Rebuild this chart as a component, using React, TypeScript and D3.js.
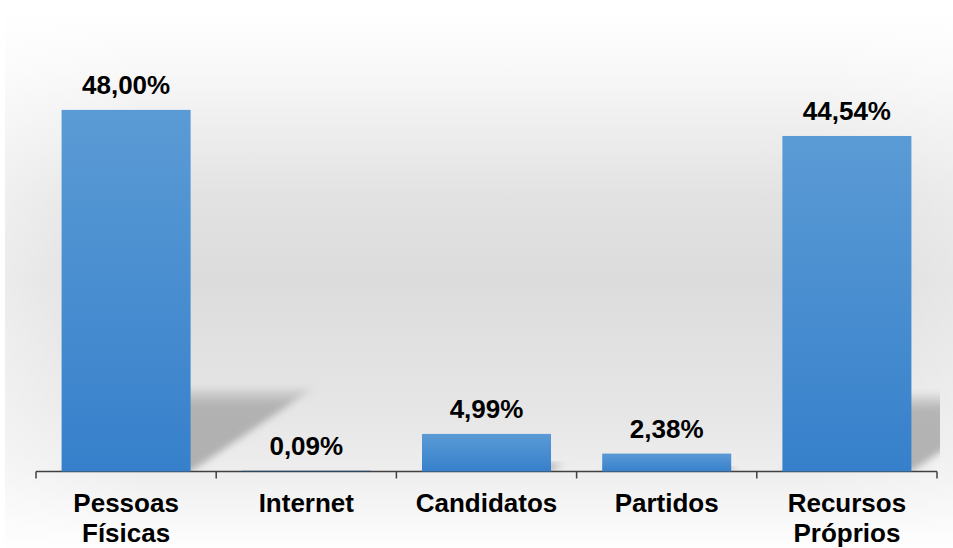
import React from "react";
import * as d3 from "d3";

const categories = ["Pessoas Físicas", "Internet", "Candidatos", "Partidos", "Recursos Próprios"];
const categoryLines = [["Pessoas", "Físicas"], ["Internet"], ["Candidatos"], ["Partidos"], ["Recursos", "Próprios"]];
const values = [48.0, 0.09, 4.99, 2.38, 44.54];
const valueLabels = ["48,00%", "0,09%", "4,99%", "2,38%", "44,54%"];

const W = 953;
const H = 548;
const FONT = "'Liberation Sans', Arial, Helvetica, sans-serif";

export default function App() {
  const x = d3.scaleBand<string>().domain(categories).range([36, 937]).paddingInner(0.284).paddingOuter(0.142);
  const y = d3.scaleLinear().domain([0, 60]).range([471.5, 19.5]);
  const base = y(0);
  const step = x.step();
  const gap = step * x.paddingInner();
  const tickXs = categories.map((c) => (x(c) as number) - gap / 2).concat([(x(categories[categories.length - 1]) as number) + x.bandwidth() + gap / 2]);

  const shadowScale = 0.23;
  const skew = 1.48;

  return (
    <svg width={W} height={H} style={{ position: "absolute", left: 0, top: 0 }} fontFamily={FONT}>
      <defs>
        <linearGradient id="bg" gradientUnits="userSpaceOnUse" x1="0" y1="10" x2="0" y2="548">
          <stop offset="0" stopColor="#ffffff" />
          <stop offset="0.1" stopColor="#f9f9f9" />
          <stop offset="0.35" stopColor="#e2e2e2" />
          <stop offset="0.5" stopColor="#dcdcdc" />
          <stop offset="0.75" stopColor="#e6e6e6" />
          <stop offset="0.86" stopColor="#eeeeee" />
          <stop offset="1" stopColor="#fefefe" />
        </linearGradient>
        <linearGradient id="edge" x1="0" y1="0" x2="1" y2="0">
          <stop offset="0" stopColor="#ffffff" stopOpacity="0.45" />
          <stop offset="0.15" stopColor="#ffffff" stopOpacity="0" />
          <stop offset="0.85" stopColor="#ffffff" stopOpacity="0" />
          <stop offset="1" stopColor="#ffffff" stopOpacity="0.3" />
        </linearGradient>
        <linearGradient id="bar" x1="0" y1="0" x2="0" y2="1">
          <stop offset="0" stopColor="#5b9bd5" />
          <stop offset="1" stopColor="#3680cb" />
        </linearGradient>
        <linearGradient id="shadowGrad" x1="0" y1="1" x2="0" y2="0">
          <stop offset="0" stopColor="#8f8f8f" stopOpacity="0.65" />
          <stop offset="0.8" stopColor="#8f8f8f" stopOpacity="0.6" />
          <stop offset="1" stopColor="#8f8f8f" stopOpacity="0.15" />
        </linearGradient>
        <filter id="blur" x="-20%" y="-20%" width="140%" height="140%">
          <feGaussianBlur stdDeviation="3.5" />
        </filter>
        <clipPath id="plotClip">
          <rect x={8} y={10} width={932} height={base - 10} />
        </clipPath>
      </defs>

      <rect x={0} y={0} width={W} height={H} fill="#ffffff" />
      <rect x={5} y={10} width={W - 5} height={H - 10} fill="url(#bg)" />
      <rect x={5} y={10} width={W - 5} height={H - 10} fill="url(#edge)" />

      <g clipPath="url(#plotClip)">
        {categories.map((c, i) => {
          const x0 = x(c) as number;
          const x1 = x0 + x.bandwidth();
          const h = (base - y(values[i])) * shadowScale;
          const dx = h * skew;
          const d = `M${x0},${base} L${x1},${base} L${x1 + dx},${base - h} L${x0 + dx},${base - h} Z`;
          return <path key={c} d={d} fill="url(#shadowGrad)" filter="url(#blur)" />;
        })}
      </g>

      <line x1={36} x2={937} y1={base} y2={base} stroke="#404040" strokeWidth={1.5} />
      {tickXs.map((tx, i) => (
        <line key={i} x1={tx} x2={tx} y1={base} y2={base + 7} stroke="#404040" strokeWidth={1.5} />
      ))}

      {categories.map((c, i) => (
        <rect
          key={c}
          x={x(c) as number}
          y={y(values[i])}
          width={x.bandwidth()}
          height={base - y(values[i])}
          fill={values[i] < 1 ? "#1f4e79" : "url(#bar)"}
        />
      ))}

      {categories.map((c, i) => (
        <text
          key={c}
          x={(x(c) as number) + x.bandwidth() / 2}
          y={y(values[i]) - 16}
          textAnchor="middle"
          fontSize={26}
          fontWeight="bold"
          fill="#000"
        >
          {valueLabels[i]}
        </text>
      ))}

      {categories.map((c, i) => (
        <text key={c} textAnchor="middle" fontSize={26} fontWeight="bold" fill="#000">
          {categoryLines[i].map((ln, j) => (
            <tspan key={j} x={(x(c) as number) + x.bandwidth() / 2} y={512 + j * 30}>
              {ln}
            </tspan>
          ))}
        </text>
      ))}
    </svg>
  );
}
